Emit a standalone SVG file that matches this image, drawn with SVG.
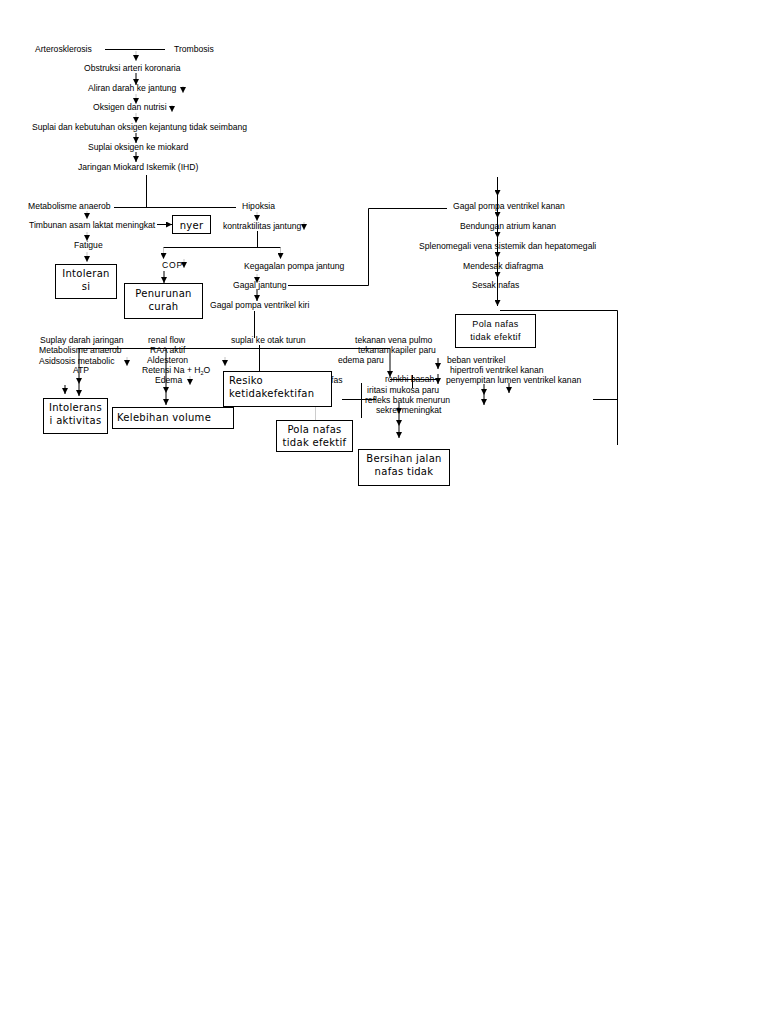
<svg xmlns="http://www.w3.org/2000/svg" width="768" height="1024" viewBox="0 0 768 1024">
<style>
.t{font-family:"Liberation Sans",Arial,sans-serif;font-size:8.6px;fill:#000}
.b{font-family:"DejaVu Sans",sans-serif;font-size:10px;letter-spacing:0.3px;fill:#000;text-anchor:middle}
.bl{font-family:"DejaVu Sans",sans-serif;font-size:10px;letter-spacing:0.3px;fill:#000}
.s{font-family:"Liberation Sans",Arial,sans-serif;font-size:9px;letter-spacing:0.4px;fill:#000;text-anchor:middle}
.box{fill:#fff;stroke:#000;stroke-width:1}
.ln{stroke:#000;stroke-width:1;fill:none}
.ar{stroke:#000;stroke-width:1;fill:none;marker-end:url(#ah)}
.dec{stroke:#aaa;stroke-width:0.7;fill:none;marker-end:url(#ah)}
.gl{stroke:#ccc;stroke-width:1;fill:none}
</style>
<defs>
<marker id="ah" markerUnits="userSpaceOnUse" markerWidth="6" markerHeight="6" refX="6" refY="3" orient="auto">
<path d="M0,0 L6,3 L0,6 z" fill="#000"/>
</marker>
</defs>
<rect width="768" height="1024" fill="#fff"/>

<g id="connectors">
<line class="ln" x1="105" y1="49.5" x2="165" y2="49.5"/>
<line class="dec" x1="136" y1="51" x2="136" y2="61"/>
<line class="ar" x1="136" y1="73" x2="136" y2="85"/>
<line class="dec" x1="136" y1="94" x2="136" y2="104"/>
<line class="dec" x1="136" y1="113" x2="136" y2="123"/>
<line class="ar" x1="136" y1="133" x2="136" y2="143"/>
<line class="ar" x1="136" y1="152" x2="136" y2="162"/>
<line class="dec" x1="183" y1="86" x2="183" y2="93"/>
<line class="dec" x1="172" y1="105" x2="172" y2="112"/>
<line class="ln" x1="146.5" y1="175" x2="146.5" y2="207.5"/>
<line class="ln" x1="114" y1="207.5" x2="236" y2="207.5"/>
<line class="dec" x1="87" y1="211" x2="87" y2="219"/>
<line class="ar" x1="157" y1="224.5" x2="172" y2="224.5"/>
<line class="dec" x1="87" y1="232" x2="87" y2="241"/>
<line class="dec" x1="87" y1="252" x2="87" y2="262"/>
<line class="dec" x1="257" y1="212" x2="257" y2="221"/>
<line class="dec" x1="304" y1="222" x2="304" y2="230"/>
<line class="ln" x1="257.5" y1="231" x2="257.5" y2="247.5"/>
<line class="ln" x1="163.5" y1="247.5" x2="280.5" y2="247.5"/>
<line class="dec" x1="163.5" y1="248" x2="163.5" y2="259"/>
<line class="dec" x1="280.5" y1="248" x2="280.5" y2="259"/>
<line class="dec" x1="184" y1="259" x2="184" y2="268"/>
<line class="ar" x1="164" y1="271" x2="164" y2="283"/>
<line class="dec" x1="257" y1="274" x2="257" y2="283"/>
<path class="ln" d="M288,285.5 H368.5 V208.5 H447"/>
<line class="ar" x1="257" y1="289" x2="257" y2="301"/>
<line class="ln" x1="254.5" y1="311" x2="254.5" y2="338"/>
<line class="ln" x1="259.5" y1="345" x2="259.5" y2="371"/>
<line class="ar" x1="497.5" y1="177" x2="497.5" y2="196"/>
<line class="ar" x1="497.5" y1="196" x2="497.5" y2="218"/>
<line class="ar" x1="497.5" y1="218" x2="497.5" y2="238"/>
<line class="ar" x1="497.5" y1="238" x2="497.5" y2="258"/>
<line class="ar" x1="497.5" y1="258" x2="497.5" y2="278"/>
<line class="ar" x1="497.5" y1="278" x2="497.5" y2="306"/>
<path class="ln" d="M500,310.5 H617.5 V445"/>
<line class="ln" x1="593" y1="399.5" x2="617" y2="399.5"/>
<line class="ln" x1="78" y1="348.5" x2="390" y2="348.5"/>
<line class="ar" x1="79" y1="348" x2="79" y2="384"/>
<line class="ar" x1="79" y1="384" x2="79" y2="396"/>
<line class="ar" x1="65" y1="385" x2="65" y2="394"/>
<line class="dec" x1="127" y1="357" x2="127" y2="366"/>
<line class="ar" x1="166" y1="348" x2="166" y2="393"/>
<line class="ar" x1="166" y1="393" x2="166" y2="405"/>
<line class="dec" x1="190" y1="376" x2="190" y2="385"/>
<line class="dec" x1="225" y1="357" x2="225" y2="366"/>
<line class="gl" x1="315.5" y1="406" x2="315.5" y2="420"/>
<line class="ar" x1="390" y1="348" x2="390" y2="377"/>
<line class="ln" x1="390" y1="379.5" x2="436" y2="379.5"/>
<line class="ln" x1="412.5" y1="375" x2="412.5" y2="388"/>
<line class="ar" x1="438" y1="358" x2="438" y2="369"/>
<line class="ar" x1="438" y1="374" x2="438" y2="384"/>
<line class="ln" x1="342" y1="399.5" x2="376" y2="399.5"/>
<line class="ln" x1="361.5" y1="383" x2="361.5" y2="418"/>
<line class="ar" x1="399" y1="403" x2="399" y2="414"/>
<line class="ar" x1="399" y1="414" x2="399" y2="426"/>
<line class="ar" x1="399" y1="426" x2="399" y2="438"/>
<line class="ar" x1="484" y1="384" x2="484" y2="395"/>
<line class="ar" x1="484" y1="395" x2="484" y2="405"/>
<line class="ar" x1="509" y1="383" x2="509" y2="393"/>
</g>

<g id="labels">
<text class="t" x="35" y="52">Arterosklerosis</text>
<text class="t" x="174" y="52">Trombosis</text>
<text class="t" x="84" y="71">Obstruksi arteri koronaria</text>
<text class="t" x="88" y="91">Aliran darah ke jantung</text>
<text class="t" x="93" y="110">Oksigen dan nutrisi</text>
<text class="t" x="32" y="130">Suplai dan kebutuhan oksigen kejantung tidak seimbang</text>
<text class="t" x="88" y="150">Suplai oksigen ke miokard</text>
<text class="t" x="78" y="170">Jaringan Miokard Iskemik (IHD)</text>
<text class="t" x="28" y="209">Metabolisme anaerob</text>
<text class="t" x="242" y="209">Hipoksia</text>
<text class="t" x="29" y="228">Timbunan asam laktat meningkat</text>
<text class="t" x="223" y="229">kontraktilitas jantung</text>
<text class="t" x="74" y="248">Fatigue</text>
<text class="t" x="162" y="268" letter-spacing="0.8">COP</text>
<text class="t" x="244" y="269">Kegagalan pompa jantung</text>
<text class="t" x="233" y="288">Gagal jantung</text>
<text class="t" x="210" y="308">Gagal pompa ventrikel kiri</text>
<text class="t" x="453" y="209">Gagal pompa ventrikel kanan</text>
<text class="t" x="460" y="229">Bendungan atrium kanan</text>
<text class="t" x="419" y="249">Splenomegali vena sistemik dan hepatomegali</text>
<text class="t" x="463" y="269">Mendesak diafragma</text>
<text class="t" x="472" y="288">Sesak nafas</text>
<text class="t" x="40" y="343">Suplay darah jaringan</text>
<text class="t" x="39" y="353">Metabolisme anaerob</text>
<text class="t" x="39" y="364">Asidsosis metabolic</text>
<text class="t" x="73" y="373">ATP</text>
<text class="t" x="148" y="343">renal flow</text>
<text class="t" x="150" y="353">RAA aktif</text>
<text class="t" x="147" y="363">Aldesteron</text>
<text class="t" x="142" y="373">Retensi Na + H<tspan font-size="5.5" dy="1.5">2</tspan><tspan dy="-1.5">O</tspan></text>
<text class="t" x="155" y="383">Edema</text>
<text class="t" x="231" y="343">suplai ke otak turun</text>
<text class="t" x="355" y="343">tekanan vena pulmo</text>
<text class="t" x="358" y="353">tekanan kapiler paru</text>
<text class="t" x="338" y="363">edema paru</text>
<text class="t" x="331" y="383">fas</text>
<text class="t" x="385" y="382">ronkhi basah</text>
<text class="t" x="367" y="393">iritasi mukosa paru</text>
<text class="t" x="365" y="403">refleks batuk menurun</text>
<text class="t" x="376" y="413">sekret meningkat</text>
<text class="t" x="447" y="363">beban ventrikel</text>
<text class="t" x="450" y="373">hipertrofi ventrikel kanan</text>
<text class="t" x="446" y="383">penyempitan lumen ventrikel kanan</text>
</g>

<g id="node-nyeri">
<rect class="box" x="172.5" y="215.5" width="38" height="18"/>
<text class="b" x="191.5" y="229" letter-spacing="0.6">nyer</text>
</g>
<g id="node-intoleransi-1">
<rect class="box" x="55.5" y="264.5" width="61" height="34"/>
<text class="b" x="86" y="277">Intoleran</text>
<text class="b" x="86" y="290">si</text>
</g>
<g id="node-penurunan">
<rect class="box" x="124.5" y="283.5" width="78" height="35"/>
<text class="b" x="163.5" y="297">Penurunan</text>
<text class="b" x="163.5" y="310">curah</text>
</g>
<g id="node-pola-nafas-kanan">
<rect class="box" x="455.5" y="314.5" width="80" height="33"/>
<text class="s" x="495.5" y="327">Pola nafas</text>
<text class="s" x="495.5" y="340">tidak efektif</text>
</g>
<g id="node-intoleransi-2">
<rect class="box" x="43.5" y="398.5" width="64" height="35"/>
<text class="b" x="75.5" y="411">Intolerans</text>
<text class="b" x="75.5" y="424">i aktivitas</text>
</g>
<g id="node-kelebihan">
<rect class="box" x="112.5" y="407.5" width="121" height="21"/>
<text class="bl" x="117" y="421">Kelebihan volume</text>
</g>
<g id="node-resiko">
<rect class="box" x="223.5" y="371.5" width="108" height="35"/>
<text class="bl" x="229" y="384">Resiko</text>
<text class="bl" x="229" y="397">ketidakefektifan</text>
</g>
<g id="node-pola-nafas-kiri">
<rect class="box" x="276.5" y="420.5" width="76" height="31"/>
<text class="b" x="314.5" y="433">Pola nafas</text>
<text class="b" x="314.5" y="446">tidak efektif</text>
</g>
<g id="node-bersihan">
<rect class="box" x="358.5" y="449.5" width="91" height="36"/>
<text class="b" x="404" y="462">Bersihan jalan</text>
<text class="b" x="404" y="475">nafas tidak</text>
</g>
</svg>
